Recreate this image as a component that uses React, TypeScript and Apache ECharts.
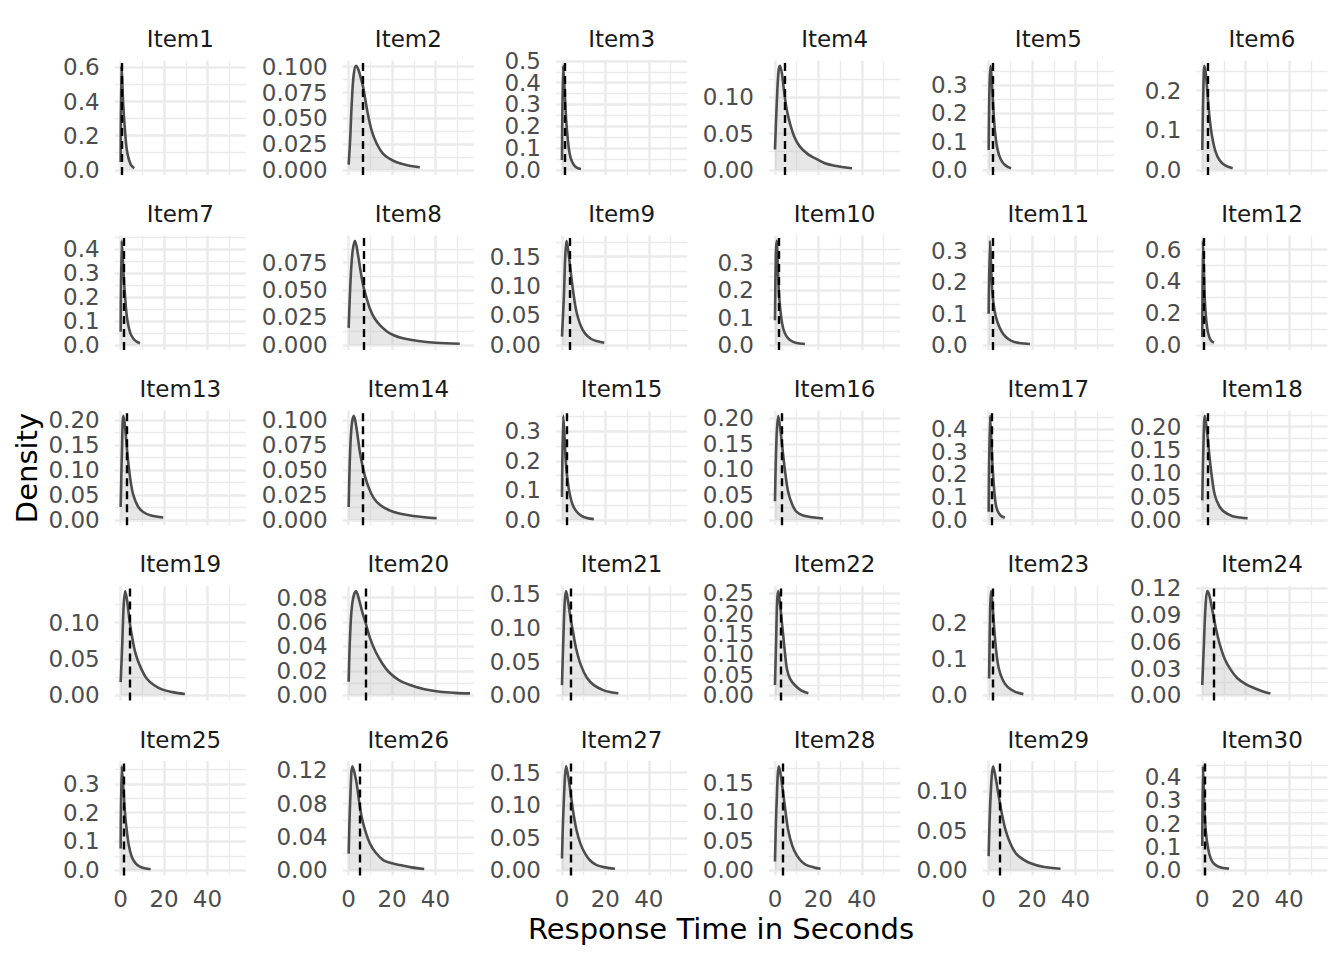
import React, { useEffect, useRef } from "react";
import * as echarts from "echarts";

// ---- Data (x = seconds, y = density) ----
const item1 = [[0,0.045],[0.3,0.61],[0.6,0.56],[1.2,0.38],[2.0,0.23],[2.7,0.13],[3.5,0.074],[4.5,0.035],[5.4,0.018],[6.3,0.01]];
const item2 = [[0,0.005],[0.7,0.03],[1.4,0.064],[2.3,0.092],[3.4,0.101],[4.5,0.097],[5.6,0.089],[6.7,0.08],[8.5,0.058],[10.6,0.038],[13,0.025],[15.9,0.0154],[19,0.0105],[22.1,0.0073],[27,0.0045],[32.8,0.0025]];
const item3 = [[0,0.045],[0.5,0.478],[1.0,0.41],[1.5,0.31],[2.0,0.22],[3.0,0.11],[4.0,0.055],[5.5,0.022],[7,0.009],[8.8,0.004]];
const item4 = [[0,0.028],[0.8,0.09],[1.6,0.135],[2.3,0.1436],[3.2,0.133],[4.3,0.106],[5.5,0.082],[6.9,0.064],[9,0.045],[11.5,0.032],[15,0.022],[18.4,0.016],[23,0.009],[27.6,0.0055],[32,0.0035],[35.5,0.0022]];
const item5 = [[0,0.07],[0.4,0.3],[0.9,0.369],[1.5,0.31],[2.2,0.21],[3,0.13],[4,0.075],[5.5,0.038],[7.5,0.017],[10.3,0.005]];
const item6 = [[0,0.05],[0.5,0.2],[1.0,0.263],[1.7,0.24],[2.6,0.18],[3.5,0.125],[4.5,0.085],[6,0.048],[8,0.024],[10.5,0.011],[14,0.004]];
const item7 = [[0,0.055],[0.46,0.435],[1.0,0.36],[1.5,0.27],[2.0,0.207],[2.7,0.13],[3.5,0.083],[4.5,0.048],[5.8,0.027],[7.3,0.014],[8.9,0.007]];
const item8 = [[0,0.0155],[0.9,0.06],[1.8,0.085],[2.9,0.0948],[4.4,0.081],[5.5,0.067],[6.7,0.054],[8.2,0.043],[9.8,0.033],[12,0.024],[14.4,0.018],[17.5,0.0125],[20.5,0.009],[25,0.006],[31.3,0.0038],[40,0.002],[51.2,0.001]];
const item9 = [[0,0.014],[0.9,0.084],[1.5,0.15],[2.1,0.177],[2.9,0.16],[3.7,0.135],[4.4,0.113],[5.5,0.082],[6.7,0.056],[8.5,0.034],[10.6,0.0196],[13.5,0.01],[16.5,0.006],[19.5,0.0037]];
const item10 = [[0,0.09],[0.4,0.33],[0.8,0.381],[1.3,0.29],[1.9,0.181],[2.8,0.105],[3.8,0.06],[5.2,0.033],[6.9,0.018],[9.5,0.008],[13.8,0.003]];
const item11 = [[0,0.1],[0.6,0.333],[1.1,0.26],[1.7,0.169],[2.7,0.11],[4.0,0.074],[5.8,0.045],[7.8,0.026],[10.5,0.013],[14,0.006],[19,0.003]];
const item12 = [[0,0.05],[0.3,0.655],[0.7,0.5],[1.1,0.312],[1.6,0.19],[2.3,0.104],[3.2,0.05],[4.2,0.025],[5.4,0.014]];
const item13 = [[0,0.026],[0.6,0.14],[1.2,0.208],[1.8,0.195],[2.4,0.168],[3.5,0.115],[4.6,0.077],[5.8,0.05],[8,0.027],[10.4,0.016],[14,0.009],[19.6,0.005]];
const item14 = [[0,0.013],[0.6,0.064],[1.4,0.095],[2.4,0.104],[3.6,0.092],[5.2,0.0676],[6.7,0.051],[8.3,0.038],[10.5,0.026],[12.9,0.018],[16.5,0.012],[20.5,0.0082],[25,0.0057],[29.7,0.004],[35,0.0027],[40.5,0.0017]];
const item15 = [[0,0.078],[0.6,0.352],[1.2,0.28],[1.8,0.195],[2.7,0.128],[3.7,0.084],[5,0.05],[6.8,0.028],[9,0.014],[11.5,0.007],[14.7,0.003]];
const item16 = [[0,0.037],[0.7,0.16],[1.5,0.205],[2.5,0.178],[3.8,0.127],[4.9,0.088],[6.1,0.055],[8,0.03],[10,0.016],[13,0.009],[17,0.0055],[22.2,0.003]];
const item17 = [[0,0.036],[0.6,0.457],[1.1,0.38],[1.7,0.254],[2.4,0.15],[3.2,0.073],[4.2,0.038],[5.5,0.02],[7.4,0.01]];
const item18 = [[0,0.042],[0.6,0.17],[1.2,0.223],[2.2,0.19],[3.6,0.124],[4.7,0.083],[5.8,0.053],[7.8,0.03],[10,0.018],[14,0.008],[17.5,0.0055],[20.9,0.0036]];
const item19 = [[0,0.018],[0.7,0.068],[1.4,0.125],[2.1,0.1435],[3,0.13],[4.2,0.1],[5.4,0.078],[7,0.056],[9.4,0.037],[12,0.023],[15.3,0.014],[19,0.008],[24,0.0042],[29.6,0.0016]];
const item20 = [[0,0.011],[0.8,0.055],[1.8,0.077],[3.4,0.0854],[5,0.077],[6.3,0.068],[7.7,0.06],[10,0.046],[12.6,0.035],[15.5,0.026],[18.5,0.019],[23,0.0125],[28.3,0.0083],[35,0.0048],[42.1,0.0028],[49,0.0019],[55.9,0.0015]];
const item21 = [[0,0.015],[0.7,0.09],[1.3,0.14],[1.9,0.155],[2.8,0.14],[3.8,0.118],[4.9,0.098],[6.5,0.07],[8.8,0.044],[11.5,0.026],[14.7,0.015],[19,0.0075],[22.5,0.0045],[26,0.003]];
const item22 = [[0,0.025],[0.6,0.15],[1.0,0.23],[1.5,0.255],[2.4,0.22],[3.5,0.162],[4.5,0.11],[5.5,0.065],[7,0.04],[9.1,0.025],[12,0.012],[15.4,0.005]];
const item23 = [[0.2,0.046],[0.7,0.24],[1.15,0.287],[1.9,0.24],[2.7,0.173],[3.6,0.115],[4.7,0.073],[6.5,0.042],[8.7,0.023],[12,0.01],[16,0.003]];
const item24 = [[0,0.0115],[0.8,0.06],[1.5,0.1],[2.3,0.117],[3.3,0.112],[4.6,0.096],[6.3,0.075],[8.2,0.056],[10.3,0.041],[13,0.029],[16.2,0.019],[20,0.0125],[24.1,0.0078],[28,0.0042],[31.4,0.002]];
const item25 = [[0,0.076],[0.46,0.361],[1.0,0.31],[1.5,0.255],[2.1,0.19],[2.8,0.139],[3.8,0.085],[5.1,0.047],[6.8,0.025],[8.9,0.0125],[11,0.007],[13.8,0.0035]];
const item26 = [[0,0.02],[0.8,0.09],[1.7,0.125],[2.6,0.118],[3.7,0.104],[4.8,0.083],[6,0.064],[7.8,0.046],[9.8,0.032],[12.5,0.021],[15.9,0.0123],[19.5,0.0088],[23.6,0.0063],[29,0.0035],[34.8,0.0015]];
const item27 = [[0,0.018],[0.9,0.11],[2.0,0.16],[3.1,0.14],[4.4,0.108],[5.5,0.083],[6.7,0.062],[8.5,0.041],[10.6,0.026],[13,0.015],[16,0.008],[20,0.0045],[24.4,0.0025]];
const item28 = [[0,0.015],[0.8,0.12],[1.8,0.179],[2.7,0.163],[3.8,0.132],[4.9,0.1],[6.1,0.069],[8,0.042],[10,0.026],[12.3,0.015],[14.6,0.009],[18,0.005],[21,0.0028]];
const item29 = [[0,0.018],[0.9,0.095],[2.1,0.132],[3.3,0.116],[4.7,0.093],[6.2,0.07],[7.8,0.051],[10,0.034],[12.4,0.022],[15.5,0.0145],[19.3,0.0089],[25,0.0045],[33.1,0.002]];
const item30 = [[0,0.104],[0.3,0.447],[0.7,0.36],[1.1,0.245],[1.6,0.17],[2.3,0.116],[3.3,0.068],[4.6,0.037],[6.5,0.02],[9,0.011],[12.3,0.007]];

const curves = [item1, item2, item3, item4, item5, item6, item7, item8, item9, item10,
  item11, item12, item13, item14, item15, item16, item17, item18, item19, item20,
  item21, item22, item23, item24, item25, item26, item27, item28, item29, item30];

const itemNames = curves.map((_, i) => "Item" + (i + 1));

// dashed reference line per item (seconds)
const medians = [0.6, 6.7, 1.5, 4.3, 2.0, 2.6, 1.2, 6.9, 3.7, 1.7, 1.8, 0.8, 3.0, 6.3, 2.0,
  3.2, 1.4, 2.6, 4.4, 8.1, 4.2, 2.7, 2.1, 5.5, 1.5, 5.1, 4.1, 3.7, 5.1, 1.1];

// y tick labels per panel
const yTickLabels = [
  ["0.0", "0.2", "0.4", "0.6"],
  ["0.000", "0.025", "0.050", "0.075", "0.100"],
  ["0.0", "0.1", "0.2", "0.3", "0.4", "0.5"],
  ["0.00", "0.05", "0.10"],
  ["0.0", "0.1", "0.2", "0.3"],
  ["0.0", "0.1", "0.2"],
  ["0.0", "0.1", "0.2", "0.3", "0.4"],
  ["0.000", "0.025", "0.050", "0.075"],
  ["0.00", "0.05", "0.10", "0.15"],
  ["0.0", "0.1", "0.2", "0.3"],
  ["0.0", "0.1", "0.2", "0.3"],
  ["0.0", "0.2", "0.4", "0.6"],
  ["0.00", "0.05", "0.10", "0.15", "0.20"],
  ["0.000", "0.025", "0.050", "0.075", "0.100"],
  ["0.0", "0.1", "0.2", "0.3"],
  ["0.00", "0.05", "0.10", "0.15", "0.20"],
  ["0.0", "0.1", "0.2", "0.3", "0.4"],
  ["0.00", "0.05", "0.10", "0.15", "0.20"],
  ["0.00", "0.05", "0.10"],
  ["0.00", "0.02", "0.04", "0.06", "0.08"],
  ["0.00", "0.05", "0.10", "0.15"],
  ["0.00", "0.05", "0.10", "0.15", "0.20", "0.25"],
  ["0.0", "0.1", "0.2"],
  ["0.00", "0.03", "0.06", "0.09", "0.12"],
  ["0.0", "0.1", "0.2", "0.3"],
  ["0.00", "0.04", "0.08", "0.12"],
  ["0.00", "0.05", "0.10", "0.15"],
  ["0.00", "0.05", "0.10", "0.15"],
  ["0.00", "0.05", "0.10"],
  ["0.0", "0.1", "0.2", "0.3", "0.4"],
];

const xTickValues = [0, 20, 40];
const xMinorValues = [10, 30, 50];
const xDataRange = [0, 55];

export default function App() {
  const ref = useRef<HTMLDivElement>(null);

  useEffect(() => {
    if (!ref.current) return;
    const chart = echarts.init(ref.current, null, { renderer: "svg" });

    const FONT = '"DejaVu Sans", sans-serif';
    const colLeft = [114.7, 342.7, 556.0, 769.0, 982.7, 1196.3];
    const rowTop = [60.5, 235.6, 410.7, 585.9, 761];
    const W = 131.3;
    const H = 114.5;
    const span = xDataRange[1] - xDataRange[0];
    const xMin = xDataRange[0] - 0.05 * span;
    const xMax = xDataRange[1] + 0.05 * span;
    const gridColor = "#ebebeb";

    const grids: any[] = [];
    const xAxes: any[] = [];
    const yAxes: any[] = [];
    const series: any[] = [];
    const graphics: any[] = [];

    const labelStyle = (vals: number[], dec: number) => ({
      show: true, customValues: vals, fontSize: 23, color: "#4d4d4d", fontFamily: FONT,
      margin: 15, formatter: (v: number) => v.toFixed(dec),
      showMinLabel: true, showMaxLabel: true, hideOverlap: false,
    });

    curves.forEach((pts, i) => {
      const r = Math.floor(i / 6);
      const c = i % 6;
      const M = Math.max(...pts.map((p) => p[1]));
      const labels = yTickLabels[i];
      const majors = labels.map(Number);
      const dec = (labels[0].split(".")[1] || "").length;
      const step = majors[1] - majors[0];
      const yMin = -0.05 * M;
      const yMax = 1.05 * M;
      const minors: number[] = [];
      majors.forEach((v) => {
        const m = v + step / 2;
        if (m <= yMax) minors.push(m);
      });
      const evenMajors = majors.filter((_, k) => k % 2 === 0);
      const oddMajors = majors.filter((_, k) => k % 2 === 1);

      grids.push({ left: colLeft[c], top: rowTop[r], width: W, height: H, containLabel: false });

      const isBottom = r === 4;
      xAxes.push({
        type: "value", gridIndex: i, min: xMin, max: xMax,
        axisLine: { show: false },
        axisTick: { show: false, customValues: xTickValues },
        axisLabel: {
          show: isBottom, customValues: xTickValues, fontSize: 23, color: "#4d4d4d",
          fontFamily: FONT, margin: 12, formatter: (v: number) => String(v),
          showMinLabel: true, showMaxLabel: true, hideOverlap: false,
        },
        splitLine: { show: true, lineStyle: { color: gridColor, width: 2.5 } },
      });
      xAxes.push({
        type: "value", gridIndex: i, min: xMin, max: xMax,
        axisLine: { show: false },
        axisTick: { show: false, customValues: xMinorValues },
        axisLabel: { show: false },
        splitLine: { show: true, lineStyle: { color: gridColor, width: 1.3 } },
      });
      // major gridlines + every other label
      yAxes.push({
        type: "value", gridIndex: i, min: yMin, max: yMax, position: "left", offset: 0,
        axisLine: { show: false },
        axisTick: { show: false, customValues: majors },
        axisLabel: labelStyle(evenMajors, dec),
        splitLine: { show: true, lineStyle: { color: gridColor, width: 2.5 } },
      });
      // minor gridlines
      yAxes.push({
        type: "value", gridIndex: i, min: yMin, max: yMax, position: "left", offset: 0,
        axisLine: { show: false },
        axisTick: { show: false, customValues: minors },
        axisLabel: { show: false },
        splitLine: { show: true, lineStyle: { color: gridColor, width: 1.3 } },
      });
      // remaining labels
      yAxes.push({
        type: "value", gridIndex: i, min: yMin, max: yMax, position: "left", offset: 0,
        axisLine: { show: false },
        axisTick: { show: false, customValues: oddMajors.length ? oddMajors : [] },
        axisLabel: oddMajors.length ? labelStyle(oddMajors, dec) : { show: false },
        splitLine: { show: false },
      });

      series.push({
        type: "line",
        name: itemNames[i],
        xAxisIndex: 2 * i,
        yAxisIndex: 3 * i,
        data: pts,
        smooth: 0.35,
        symbol: "none",
        lineStyle: { color: "#4d4d4d", width: 2.6 },
        areaStyle: { color: "rgba(185,185,185,0.5)" },
        markLine: {
          silent: true,
          symbol: ["none", "none"],
          label: { show: false },
          lineStyle: { color: "#000", width: 2.4, type: [8, 5] },
          data: [{ xAxis: medians[i] }],
          animation: false,
        },
        z: 3,
      });

      graphics.push({
        type: "text",
        x: colLeft[c] + W / 2,
        y: rowTop[r] - 21.5,
        style: {
          text: itemNames[i], font: `23px ${FONT}`, fill: "#1a1a1a",
          align: "center", verticalAlign: "middle",
          textAlign: "center", textVerticalAlign: "middle",
        },
      });
    });

    graphics.push({
      type: "text", x: 721, y: 929,
      style: {
        text: "Response Time in Seconds", font: `29px ${FONT}`, fill: "#000",
        align: "center", verticalAlign: "middle", textAlign: "center", textVerticalAlign: "middle",
      },
    });
    graphics.push({
      type: "text", x: 27, y: 468, rotation: Math.PI / 2,
      style: {
        text: "Density", font: `29px ${FONT}`, fill: "#000",
        align: "center", verticalAlign: "middle", textAlign: "center", textVerticalAlign: "middle",
      },
    });

    chart.setOption({
      animation: false,
      backgroundColor: "#ffffff",
      grid: grids,
      xAxis: xAxes,
      yAxis: yAxes,
      series,
      graphic: { elements: graphics },
    });

    return () => chart.dispose();
  }, []);

  return (
    <div
      ref={ref}
      style={{ position: "absolute", left: 0, top: 0, width: 1344, height: 960, background: "#fff" }}
    />
  );
}
